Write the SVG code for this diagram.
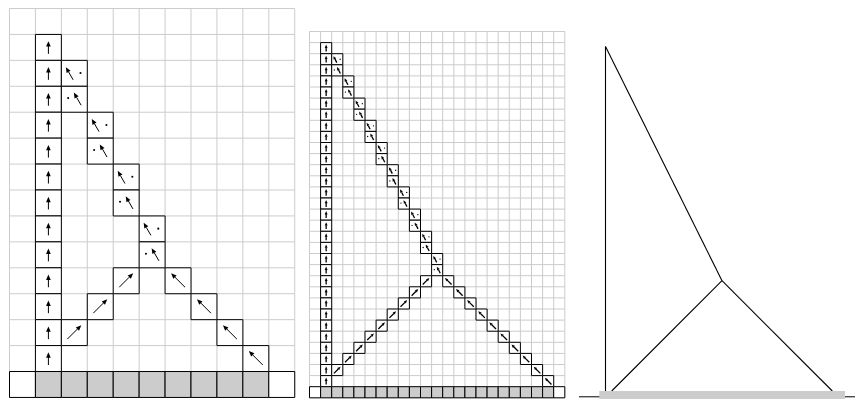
<svg xmlns="http://www.w3.org/2000/svg" xmlns:xlink="http://www.w3.org/1999/xlink" width="855" height="399" viewBox="0 0 855 399">
<style>
.grid{fill:none;stroke:#cccccc;stroke-width:1;vector-effect:non-scaling-stroke}
.box{fill:#ffffff;stroke:#000000;stroke-width:1;vector-effect:non-scaling-stroke}
.base{fill:#cccccc;stroke:#000000;stroke-width:1;vector-effect:non-scaling-stroke}
.white{fill:#ffffff;stroke:#000000;stroke-width:1;vector-effect:non-scaling-stroke}
.sh{fill:none;stroke:#000000;stroke-width:1;vector-effect:non-scaling-stroke}
.shm{fill:none;stroke:#000000;stroke-width:1.3;vector-effect:non-scaling-stroke}
.hd{fill:#000000;stroke:none}
.dot{fill:#000000}
.edge{fill:none;stroke:#000000;stroke-width:1.1}
</style>
<defs>
<g id="aU"><path class="sh" d="M0.5 0.75V0.44"/><path class="hd" d="M0.5 0.26L0.59 0.47H0.41Z"/></g>
<g id="aUR"><path class="sh" d="M0.231 0.75L0.62 0.361"/><path class="hd" d="M0.769 0.212L0.682 0.424L0.557 0.298Z"/></g>
<g id="aUL"><path class="sh" d="M0.769 0.75L0.38 0.361"/><path class="hd" d="M0.231 0.212L0.318 0.424L0.443 0.298Z"/></g>
<g id="aS"><path class="sh" d="M0.454 0.75L0.278 0.445"/><path class="hd" d="M0.173 0.262L0.355 0.401L0.202 0.489Z"/></g>
<g id="cU"><rect class="box" width="1" height="1"/><use href="#aU"/></g>
<g id="cUR"><rect class="box" width="1" height="1"/><use href="#aUR"/></g>
<g id="cUL"><rect class="box" width="1" height="1"/><use href="#aUL"/></g>
<g id="cPT"><rect class="box" width="1" height="1"/><use href="#aS"/><circle class="dot" cx="0.738" cy="0.49" r="0.04"/></g>
<g id="cPB"><rect class="box" width="1" height="1"/><use href="#aS" x="0.308" y="-0.02"/><circle class="dot" cx="0.262" cy="0.455" r="0.04"/></g>
<g id="aUm"><path class="shm" d="M0.5 0.8V0.45"/><path class="hd" d="M0.5 0.18L0.63 0.48H0.37Z"/></g>
<g id="aURm"><path class="shm" d="M0.2 0.8L0.6 0.4"/><path class="hd" d="M0.8 0.2L0.68 0.504L0.496 0.32Z"/></g>
<g id="aULm"><path class="shm" d="M0.8 0.8L0.4 0.4"/><path class="hd" d="M0.2 0.2L0.32 0.504L0.504 0.32Z"/></g>
<g id="aSm"><path class="shm" d="M0.46 0.8L0.3 0.49"/><path class="hd" d="M0.15 0.22L0.409 0.42L0.181 0.546Z"/></g>
<g id="mU"><rect class="box" width="1" height="1"/><use href="#aUm"/></g>
<g id="mUR"><rect class="box" width="1" height="1"/><use href="#aURm"/></g>
<g id="mUL"><rect class="box" width="1" height="1"/><use href="#aULm"/></g>
<g id="mPT"><rect class="box" width="1" height="1"/><use href="#aSm"/><circle class="dot" cx="0.76" cy="0.5" r="0.06"/></g>
<g id="mPB"><rect class="box" width="1" height="1"/><use href="#aSm" x="0.32" y="-0.02"/><circle class="dot" cx="0.24" cy="0.46" r="0.06"/></g>
</defs>

<g id="left-panel" transform="translate(9.5 8.5) scale(25.93)">
<path class="grid" d="M0 0V15M1 0V15M2 0V15M3 0V15M4 0V15M5 0V15M6 0V15M7 0V15M8 0V15M9 0V15M10 0V15M11 0V15M0 0H11M0 1H11M0 2H11M0 3H11M0 4H11M0 5H11M0 6H11M0 7H11M0 8H11M0 9H11M0 10H11M0 11H11M0 12H11M0 13H11M0 14H11M0 15H11"/>
<g id="left-tower">
<use href="#cU" x="1" y="1"/><use href="#cU" x="1" y="2"/><use href="#cU" x="1" y="3"/><use href="#cU" x="1" y="4"/><use href="#cU" x="1" y="5"/><use href="#cU" x="1" y="6"/><use href="#cU" x="1" y="7"/><use href="#cU" x="1" y="8"/><use href="#cU" x="1" y="9"/><use href="#cU" x="1" y="10"/><use href="#cU" x="1" y="11"/><use href="#cU" x="1" y="12"/><use href="#cU" x="1" y="13"/>
</g>
<g id="left-diagonal">
<use href="#cPT" x="2" y="2"/><use href="#cPB" x="2" y="3"/>
<use href="#cPT" x="3" y="4"/><use href="#cPB" x="3" y="5"/>
<use href="#cPT" x="4" y="6"/><use href="#cPB" x="4" y="7"/>
<use href="#cPT" x="5" y="8"/><use href="#cPB" x="5" y="9"/>
</g>
<g id="left-branches">
<use href="#cUR" x="4" y="10"/><use href="#cUR" x="3" y="11"/><use href="#cUR" x="2" y="12"/>
<use href="#cUL" x="6" y="10"/><use href="#cUL" x="7" y="11"/><use href="#cUL" x="8" y="12"/><use href="#cUL" x="9" y="13"/>
</g>
<g id="left-base">
<rect class="white" x="0" y="14" width="1" height="1"/>
<rect class="base" x="1" y="14" width="1" height="1"/><rect class="base" x="2" y="14" width="1" height="1"/><rect class="base" x="3" y="14" width="1" height="1"/><rect class="base" x="4" y="14" width="1" height="1"/><rect class="base" x="5" y="14" width="1" height="1"/><rect class="base" x="6" y="14" width="1" height="1"/><rect class="base" x="7" y="14" width="1" height="1"/><rect class="base" x="8" y="14" width="1" height="1"/><rect class="base" x="9" y="14" width="1" height="1"/>
<rect class="white" x="10" y="14" width="1" height="1"/>
</g>
</g>

<g id="middle-panel" transform="translate(309.5 31.5) scale(11.1)">
<path class="grid" d="M0 0V33M1 0V33M2 0V33M3 0V33M4 0V33M5 0V33M6 0V33M7 0V33M8 0V33M9 0V33M10 0V33M11 0V33M12 0V33M13 0V33M14 0V33M15 0V33M16 0V33M17 0V33M18 0V33M19 0V33M20 0V33M21 0V33M22 0V33M23 0V33M0 0H23M0 1H23M0 2H23M0 3H23M0 4H23M0 5H23M0 6H23M0 7H23M0 8H23M0 9H23M0 10H23M0 11H23M0 12H23M0 13H23M0 14H23M0 15H23M0 16H23M0 17H23M0 18H23M0 19H23M0 20H23M0 21H23M0 22H23M0 23H23M0 24H23M0 25H23M0 26H23M0 27H23M0 28H23M0 29H23M0 30H23M0 31H23M0 32H23M0 33H23"/>
<g id="middle-tower">
<use href="#mU" x="1" y="1"/><use href="#mU" x="1" y="2"/><use href="#mU" x="1" y="3"/><use href="#mU" x="1" y="4"/><use href="#mU" x="1" y="5"/><use href="#mU" x="1" y="6"/><use href="#mU" x="1" y="7"/><use href="#mU" x="1" y="8"/><use href="#mU" x="1" y="9"/><use href="#mU" x="1" y="10"/><use href="#mU" x="1" y="11"/><use href="#mU" x="1" y="12"/><use href="#mU" x="1" y="13"/><use href="#mU" x="1" y="14"/><use href="#mU" x="1" y="15"/><use href="#mU" x="1" y="16"/><use href="#mU" x="1" y="17"/><use href="#mU" x="1" y="18"/><use href="#mU" x="1" y="19"/><use href="#mU" x="1" y="20"/><use href="#mU" x="1" y="21"/><use href="#mU" x="1" y="22"/><use href="#mU" x="1" y="23"/><use href="#mU" x="1" y="24"/><use href="#mU" x="1" y="25"/><use href="#mU" x="1" y="26"/><use href="#mU" x="1" y="27"/><use href="#mU" x="1" y="28"/><use href="#mU" x="1" y="29"/><use href="#mU" x="1" y="30"/><use href="#mU" x="1" y="31"/>
</g>
<g id="middle-diagonal">
<use href="#mPT" x="2" y="2"/><use href="#mPB" x="2" y="3"/>
<use href="#mPT" x="3" y="4"/><use href="#mPB" x="3" y="5"/>
<use href="#mPT" x="4" y="6"/><use href="#mPB" x="4" y="7"/>
<use href="#mPT" x="5" y="8"/><use href="#mPB" x="5" y="9"/>
<use href="#mPT" x="6" y="10"/><use href="#mPB" x="6" y="11"/>
<use href="#mPT" x="7" y="12"/><use href="#mPB" x="7" y="13"/>
<use href="#mPT" x="8" y="14"/><use href="#mPB" x="8" y="15"/>
<use href="#mPT" x="9" y="16"/><use href="#mPB" x="9" y="17"/>
<use href="#mPT" x="10" y="18"/><use href="#mPB" x="10" y="19"/>
<use href="#mPT" x="11" y="20"/><use href="#mPB" x="11" y="21"/>
</g>
<g id="middle-branches">
<use href="#mUR" x="10" y="22"/><use href="#mUR" x="9" y="23"/><use href="#mUR" x="8" y="24"/><use href="#mUR" x="7" y="25"/><use href="#mUR" x="6" y="26"/><use href="#mUR" x="5" y="27"/><use href="#mUR" x="4" y="28"/><use href="#mUR" x="3" y="29"/><use href="#mUR" x="2" y="30"/>
<use href="#mUL" x="12" y="22"/><use href="#mUL" x="13" y="23"/><use href="#mUL" x="14" y="24"/><use href="#mUL" x="15" y="25"/><use href="#mUL" x="16" y="26"/><use href="#mUL" x="17" y="27"/><use href="#mUL" x="18" y="28"/><use href="#mUL" x="19" y="29"/><use href="#mUL" x="20" y="30"/><use href="#mUL" x="21" y="31"/>
</g>
<g id="middle-base">
<rect class="white" x="0" y="32" width="1" height="1"/>
<rect class="base" x="1" y="32" width="1" height="1"/><rect class="base" x="2" y="32" width="1" height="1"/><rect class="base" x="3" y="32" width="1" height="1"/><rect class="base" x="4" y="32" width="1" height="1"/><rect class="base" x="5" y="32" width="1" height="1"/><rect class="base" x="6" y="32" width="1" height="1"/><rect class="base" x="7" y="32" width="1" height="1"/><rect class="base" x="8" y="32" width="1" height="1"/><rect class="base" x="9" y="32" width="1" height="1"/><rect class="base" x="10" y="32" width="1" height="1"/><rect class="base" x="11" y="32" width="1" height="1"/><rect class="base" x="12" y="32" width="1" height="1"/><rect class="base" x="13" y="32" width="1" height="1"/><rect class="base" x="14" y="32" width="1" height="1"/><rect class="base" x="15" y="32" width="1" height="1"/><rect class="base" x="16" y="32" width="1" height="1"/><rect class="base" x="17" y="32" width="1" height="1"/><rect class="base" x="18" y="32" width="1" height="1"/><rect class="base" x="19" y="32" width="1" height="1"/><rect class="base" x="20" y="32" width="1" height="1"/><rect class="base" x="21" y="32" width="1" height="1"/>
<rect class="white" x="22" y="32" width="1" height="1"/>
</g>
</g>

<g id="right-panel">
<g id="tree-connectors">
<line class="edge" x1="605.5" y1="46.5" x2="605.5" y2="391"/>
<line class="edge" x1="605.5" y1="46.5" x2="722" y2="280.7"/>
<line class="edge" x1="722" y1="280.7" x2="611.7" y2="391"/>
<line class="edge" x1="722" y1="280.7" x2="832.3" y2="391"/>
</g>
<line id="ground" x1="579" y1="396.8" x2="855" y2="396.8" stroke="#000000" stroke-width="1"/>
<rect id="ground-bar" x="599.3" y="391" width="245.7" height="8" fill="#cccccc"/>
</g>
</svg>
